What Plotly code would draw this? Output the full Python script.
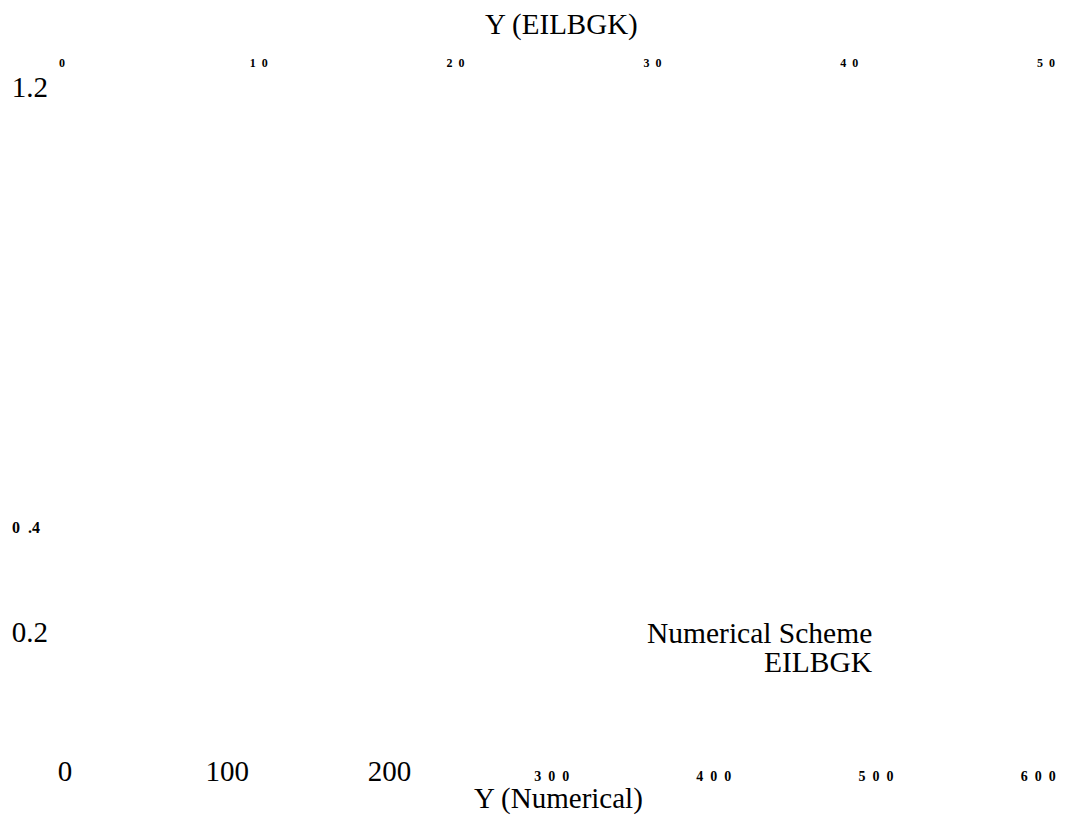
import plotly.graph_objects as go

# ---- data ----
numerical_ticks = [0, 100, 200, 300, 400, 500, 600]
numerical_labels = ["0", "100", "200", "3  0  0", "4  0  0", "5  0  0", "6  0  0"]
numerical_small = [False, False, False, True, True, True, True]

eilbgk_ticks = [0, 10, 20, 30, 40, 50]
eilbgk_labels = ["0", "1  0", "2  0", "3  0", "4  0", "5  0"]

y_ticks = [0.2, 0.4, 1.2]
y_labels = ["0.2", "0  .4  ", "1.2"]
y_small = [False, True, False]

x_title = "Y (Numerical)"
x2_title = "Y (EILBGK)"
legend_title = "Numerical Scheme"
series_name = "EILBGK"
series_x = []   # no visible data marks in the reference
series_y = []

FONT = "Liberation Serif, Times New Roman, serif"
BIG = 29


def small(s, size=14):
    s = s.replace(" ", "\u00a0")
    return f'<span style="font-size:{size}px"><b>{s}</b></span>'


x_text = [small(t) if sm else t for t, sm in zip(numerical_labels, numerical_small)]
y_text = [small(t, 16) if sm else t for t, sm in zip(y_labels, y_small)]
x2_text = [small(t, 12) for t in eilbgk_labels]

fig = go.Figure()
fig.add_trace(go.Scatter(x=series_x, y=series_y, name=series_name, mode="lines",
                         showlegend=False))
fig.add_trace(go.Scatter(x=series_x, y=series_y, xaxis="x2", mode="lines",
                         showlegend=False))

axis_common = dict(showgrid=False, zeroline=False, showline=False, ticks="",
                   automargin=False, color="black")

txt = dict(size=BIG, family=FONT, color="black")

# the page body adds an 8px offset, so the figure is 8px smaller than the window
fig.update_layout(
    width=1068, height=809,
    margin=dict(l=41, r=16, t=62, b=66, pad=0),
    paper_bgcolor="white", plot_bgcolor="white",
    font=dict(family=FONT, color="black", size=BIG),
    showlegend=False,
    xaxis=dict(range=[-9.9, 613.4], tickmode="array", tickvals=numerical_ticks,
               ticktext=x_text, tickfont=dict(size=BIG, family=FONT),
               **axis_common),
    xaxis2=dict(range=[-0.66, 50.71], overlaying="x", side="top", anchor="y",
                tickmode="array", tickvals=eilbgk_ticks, ticktext=x2_text,
                tickfont=dict(size=12, family=FONT),
                **axis_common),
    yaxis=dict(range=[-0.0183, 1.2312], tickmode="array", tickvals=y_ticks,
               ticktext=y_text, tickfont=dict(size=BIG, family=FONT),
               **axis_common),
    annotations=[
        dict(text=x2_title, xref="paper", yref="paper", x=0.5074, y=1.0661,
             xanchor="center", yanchor="middle", showarrow=False, font=txt),
        dict(text=x_title, xref="paper", yref="paper", x=0.5035, y=-0.0698,
             xanchor="center", yanchor="middle", showarrow=False, font=txt),
        dict(text=legend_title, xref="paper", yref="paper", x=0.816, y=0.1733,
             xanchor="right", yanchor="middle", showarrow=False,
             font=dict(size=29.5, family=FONT, color="black")),
        dict(text=series_name, xref="paper", yref="paper", x=0.816, y=0.1307,
             xanchor="right", yanchor="middle", showarrow=False,
             font=dict(size=29.5, family=FONT, color="black")),
    ],
)

fig.write_html("out.html")
